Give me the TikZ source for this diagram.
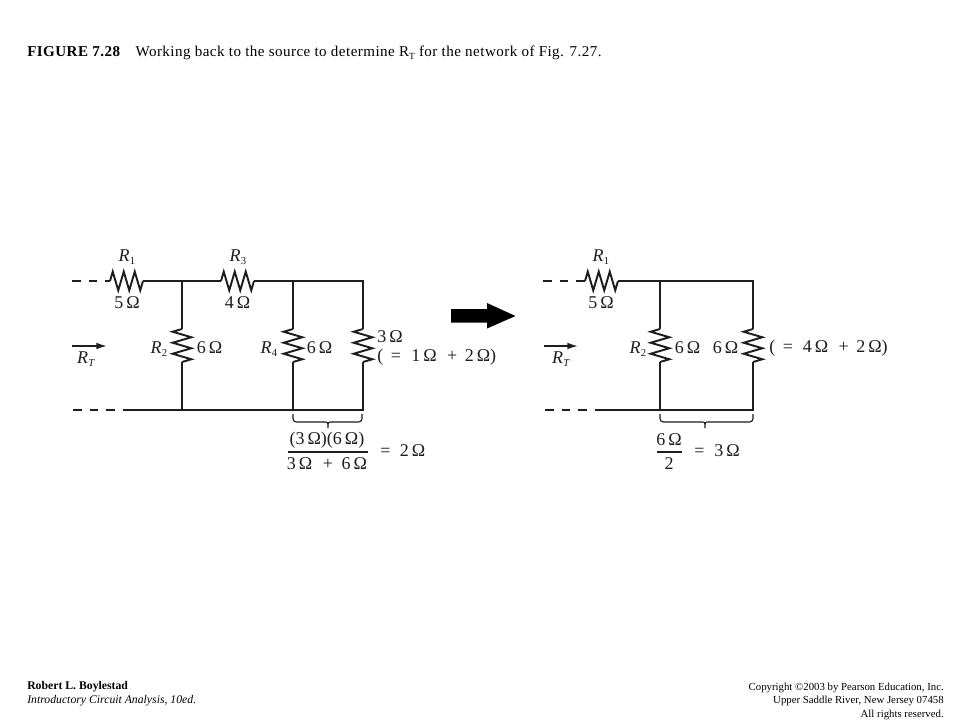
\documentclass[tikz,border=0pt]{standalone}
\usepackage{fontspec}
\setmainfont{Liberation Serif}
\usetikzlibrary{calc,arrows.meta}
\definecolor{ink}{HTML}{1E1E1E}
\newcommand{\Rsub}[1]{\textit{R}\kern0.2pt\raisebox{-0.35ex}{\footnotesize #1}}
\newcommand{\Ohm}[1]{#1\,\textup{Ω}}
\tikzset{
  wire/.style={draw=ink,line width=1.2pt},
  dashwire/.style={draw=ink,line width=1.2pt,dash pattern=on 6.5pt off 6pt},
  zigzag res/.style={draw=ink,line width=1.45pt,line join=miter,miter limit=10,to path={
    -- ($(\tikztostart)!1/12!(\tikztotarget)!7pt!#1:(\tikztotarget)$)
    -- ($(\tikztostart)!3/12!(\tikztotarget)!-7pt!#1:(\tikztotarget)$)
    -- ($(\tikztostart)!5/12!(\tikztotarget)!7pt!#1:(\tikztotarget)$)
    -- ($(\tikztostart)!7/12!(\tikztotarget)!-7pt!#1:(\tikztotarget)$)
    -- ($(\tikztostart)!9/12!(\tikztotarget)!7pt!#1:(\tikztotarget)$)
    -- ($(\tikztostart)!11/12!(\tikztotarget)!-7pt!#1:(\tikztotarget)$)
    -- (\tikztotarget)}},
  lab/.style={inner sep=0pt,text=ink,font=\fontsize{13.5}{15}\selectfont},
  captext/.style={inner sep=0pt,text=black,anchor=base west,font=\fontsize{11.3}{13}\selectfont\addfontfeature{LetterSpace=3}},
  footl/.style={inner sep=0pt,text=black,anchor=base west,font=\fontsize{8.8}{10}\selectfont},
  footr/.style={inner sep=0pt,text=black,anchor=base east,font=\fontsize{8.1}{10}\selectfont},
  rtarrow/.style={draw=ink,line width=1.1pt,-{Latex[length=8pt,width=5pt]}},
  brace/.style={draw=ink,line width=0.85pt,rounded corners=2.5pt},
  fracbar/.style={draw=ink,line width=0.85pt},
  bigarrow/.style={fill=black,draw=none},
}
\begin{document}
\begin{tikzpicture}[x=0.75pt,y=-0.75pt]
\useasboundingbox[fill=white] (0,0) rectangle (960,720);
% caption
\node[captext] (captitle) at (27,57) {\textbf{FIGURE 7.28}\hspace{1.0em}Working back to the source to determine R\raisebox{-0.3ex}{\scriptsize T} for the network of Fig. 7.27.};
% footer
\node[footl] (author) at (27,689) {\textbf{Robert L. Boylestad}};
\node[footl] (book) at (27,703) {\textit{Introductory Circuit Analysis, 10ed.}};
\node[footr] (copy1) at (944,690) {Copyright ©2003 by Pearson Education, Inc.};
\node[footr] (copy2) at (944,703) {Upper Saddle River, New Jersey 07458};
\node[footr] (copy3) at (944,717) {All rights reserved.};

% ---------- left circuit ----------
\coordinate (LtD) at (72,281);
\coordinate (Lr1a) at (110,281); \coordinate (Lr1b) at (143,281);
\coordinate (Lj1) at (182,281);
\coordinate (Lr3a) at (221,281); \coordinate (Lr3b) at (254,281);
\coordinate (Lj2) at (293,281); \coordinate (Lj3) at (363,281);
\coordinate (Lb1) at (182,410); \coordinate (Lb2) at (293,410); \coordinate (Lb3) at (363,410);
\coordinate (LbD) at (73,410); \coordinate (LbS) at (125,410);
\coordinate (Lr2a) at (182,329); \coordinate (Lr2b) at (182,362);
\coordinate (Lr4a) at (293,329); \coordinate (Lr4b) at (293,362);
\coordinate (Lr5a) at (363,329); \coordinate (Lr5b) at (363,362);

\draw[dashwire] (LtD) -- (Lr1a);
\draw[dashwire] (LbD) -- (LbS);
\draw[zigzag res=90] (Lr1a) to (Lr1b);
\draw[zigzag res=90] (Lr3a) to (Lr3b);
\draw[wire] (Lr1b) -- (Lj1) -- (Lr3a);
\draw[wire] (Lr3b) -- (Lj2) -- (Lj3) -- (Lr5a);
\draw[wire] (LbS) -- (Lb1) -- (Lb2) -- (Lb3) -- (Lr5b);
\draw[wire] (Lj1) -- (Lr2a); \draw[wire] (Lr2b) -- (Lb1);
\draw[wire] (Lj2) -- (Lr4a); \draw[wire] (Lr4b) -- (Lb2);
\draw[zigzag res=-90] (Lr2a) to (Lr2b);
\draw[zigzag res=-90] (Lr4a) to (Lr4b);
\draw[zigzag res=-90] (Lr5a) to (Lr5b);

\node[lab] (LR1) at (127,257) {\Rsub{1}};
\node[lab] (L5) at (127,303) {\Ohm{5}};
\node[lab] (LR3) at (238,257) {\Rsub{3}};
\node[lab] (L4) at (237.5,303) {\Ohm{4}};
\node[lab] (LR2) at (159,349) {\Rsub{2}};
\node[lab] (L6a) at (209.5,348) {\Ohm{6}};
\node[lab] (LR4) at (269,349) {\Rsub{4}};
\node[lab] (L6b) at (319.5,348) {\Ohm{6}};
\node[lab,anchor=west] (L3) at (377,337) {\Ohm{3}};
\node[lab,anchor=west] (Leq) at (377,357) {( \,=\,\hspace{2.2pt} \Ohm{1} \,\,+\, \Ohm{2})};
\coordinate (LrtS) at (72,346); \coordinate (LrtE) at (107,346);
\draw[rtarrow] (LrtS) -- (LrtE);
\node[lab] (LRT) at (86,359) {\Rsub{\textit{T}}};
% brace
\coordinate (Lbr0) at (293,414); \coordinate (Lbr1) at (362,414);
\coordinate (Lbr0m) at (293,422); \coordinate (Lbr1m) at (362,422);
\coordinate (Lbrm) at (328,422); \coordinate (Lbrt) at (328,428);
\coordinate (Lbrl) at (324,422); \coordinate (Lbrr) at (332,422);
\draw[brace] (Lbr0) -- (Lbr0m) -- (Lbrl);
\draw[brace] (Lbr1) -- (Lbr1m) -- (Lbrr);
\draw[draw=ink,line width=0.85pt] (Lbrl) .. controls (Lbrm) .. (Lbrt) .. controls (Lbrm) .. (Lbrr);
% fraction
\node[lab] (Lnum) at (327,440) {(\Ohm{3})(\Ohm{6})};
\coordinate (Lf0) at (288,452); \coordinate (Lf1) at (368,452);
\draw[fracbar] (Lf0) -- (Lf1);
\node[lab] (Lden) at (327,464) {\Ohm{3} \,\,+\,\hspace{1pt} \Ohm{6}};
\node[lab,anchor=west] (Lres) at (380,451) {=\,\hspace{1.5pt} \Ohm{2}};

% ---------- big arrow ----------
\fill[bigarrow] (451,309) -- (487,309) -- (487,303) -- (515.5,316) -- (487,328.5) -- (487,322.5) -- (451,322.5) -- cycle;

% ---------- right circuit ----------
\coordinate (RtD) at (543,281);
\coordinate (Rr1a) at (585,281); \coordinate (Rr1b) at (618,281);
\coordinate (Rj1) at (660,281); \coordinate (Rj2) at (753,281);
\coordinate (Rb1) at (660,410); \coordinate (Rb2) at (753,410);
\coordinate (RbD) at (545,410); \coordinate (RbS) at (597,410);
\coordinate (Rr2a) at (660,329); \coordinate (Rr2b) at (660,362);
\coordinate (Rr4a) at (753,329); \coordinate (Rr4b) at (753,362);

\draw[dashwire] (RtD) -- (Rr1a);
\draw[dashwire] (RbD) -- (RbS);
\draw[zigzag res=90] (Rr1a) to (Rr1b);
\draw[wire] (Rr1b) -- (Rj1) -- (Rj2) -- (Rr4a);
\draw[wire] (RbS) -- (Rb1) -- (Rb2) -- (Rr4b);
\draw[wire] (Rj1) -- (Rr2a); \draw[wire] (Rr2b) -- (Rb1);
\draw[zigzag res=-90] (Rr2a) to (Rr2b);
\draw[zigzag res=-90] (Rr4a) to (Rr4b);

\node[lab] (RR1) at (601,257) {\Rsub{1}};
\node[lab] (R5) at (601,303) {\Ohm{5}};
\node[lab] (RR2) at (638,349) {\Rsub{2}};
\node[lab] (R6a) at (687.5,348) {\Ohm{6}};
\node[lab] (R6b) at (725.5,348) {\Ohm{6}};
\node[lab,anchor=west] (Req) at (769,348) {( \,=\,\hspace{1.8pt} \Ohm{4} \,\,+\, \Ohm{2})};
\coordinate (RrtS) at (544,346); \coordinate (RrtE) at (578,346);
\draw[rtarrow] (RrtS) -- (RrtE);
\node[lab] (RRT) at (561,359) {\Rsub{\textit{T}}};
% brace
\coordinate (Rbr0) at (660,414); \coordinate (Rbr1) at (753,414);
\coordinate (Rbr0m) at (660,422); \coordinate (Rbr1m) at (753,422);
\coordinate (Rbrm) at (705,422); \coordinate (Rbrt) at (705,428);
\coordinate (Rbrl) at (701,422); \coordinate (Rbrr) at (709,422);
\draw[brace] (Rbr0) -- (Rbr0m) -- (Rbrl);
\draw[brace] (Rbr1) -- (Rbr1m) -- (Rbrr);
\draw[draw=ink,line width=0.85pt] (Rbrl) .. controls (Rbrm) .. (Rbrt) .. controls (Rbrm) .. (Rbrr);
% fraction
\node[lab] (Rnum) at (669,440) {\Ohm{6}};
\coordinate (Rf0) at (657,452); \coordinate (Rf1) at (682,452);
\draw[fracbar] (Rf0) -- (Rf1);
\node[lab] (Rden) at (669,464) {2};
\node[lab,anchor=west] (Rres) at (694,451) {=\,\hspace{1.8pt} \Ohm{3}};
\end{tikzpicture}
\end{document}
